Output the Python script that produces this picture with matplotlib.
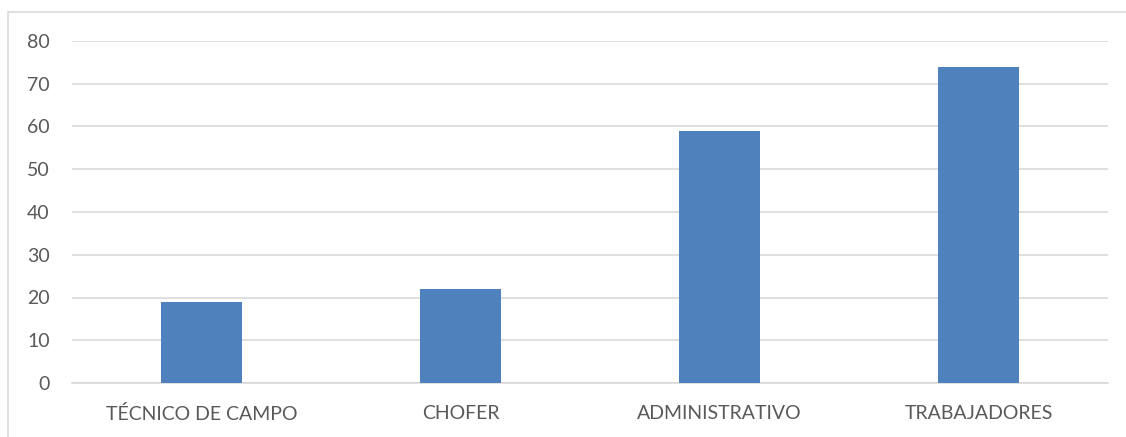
import matplotlib
matplotlib.use("Agg")
import matplotlib.pyplot as plt
from matplotlib.patches import Rectangle

categories = ["TÉCNICO DE CAMPO", "CHOFER", "ADMINISTRATIVO", "TRABAJADORES"]
values = [19, 22, 59, 74]
yticks = [0, 10, 20, 30, 40, 50, 60, 70, 80]

W, H = 1126, 437
fig = plt.figure(figsize=(W/100, H/100), dpi=100)
plt.rcParams['font.family'] = ['Lato', 'DejaVu Sans']

# outer border (chart area frame)
fig.patches.append(Rectangle((8/W, -0.1), 1.2, 1 - 12/H + 0.1, transform=fig.transFigure,
                             fill=False, edgecolor='#d9d9d9', linewidth=1.2))

ax = fig.add_axes([72/W, 54/H, (1108-72)/W, (383-41)/H])
x = range(len(categories))
ax.bar(x, values, width=0.31, color='#4f81bd', zorder=3)
ax.set_xlim(-0.5, len(categories) - 0.5)
ax.set_ylim(0, 80)
ax.set_yticks(yticks)
ax.set_xticks(list(x))
ax.set_xticklabels(categories)
ax.grid(axis='y', color='#d9d9d9', linewidth=1.2, zorder=0)
for s in ['top', 'right', 'left']:
    ax.spines[s].set_visible(False)
ax.spines['bottom'].set_color('#d9d9d9')
ax.spines['bottom'].set_linewidth(1.2)
ax.tick_params(axis='both', length=0, labelsize=14, colors='#595959')
ax.tick_params(axis='y', pad=16)
ax.tick_params(axis='x', pad=16)

fig.savefig("out.png", dpi=100)
